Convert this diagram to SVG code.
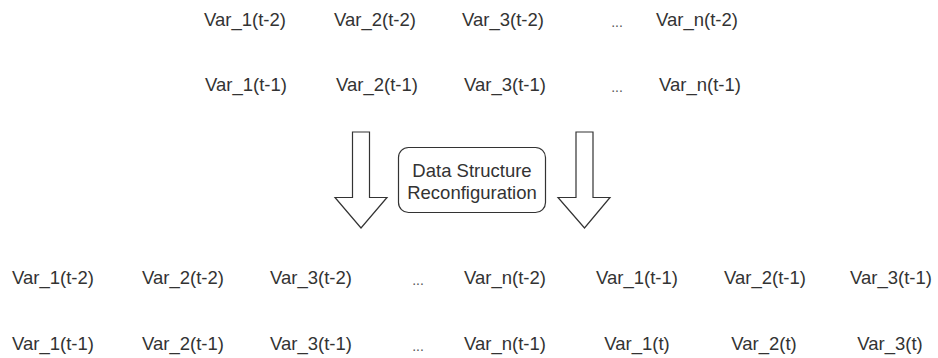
<svg xmlns="http://www.w3.org/2000/svg" width="938" height="358" viewBox="0 0 938 358">
<style>
text{font-family:"Liberation Sans",Arial,sans-serif;font-size:18.5px;fill:#333;text-anchor:middle;dominant-baseline:central}
text.dots{font-size:14px;fill:#555}
.arrow{fill:#fff;stroke:#333;stroke-width:1.2}
.box{fill:#fff;stroke:#333;stroke-width:1.2}
</style>
<rect width="938" height="358" fill="#fff"/>
<g id="top">
<g id="t1"><text x="245" y="19">Var_1(t-2)</text><text x="246" y="84">Var_1(t-1)</text></g>
<g id="t2"><text x="375" y="19">Var_2(t-2)</text><text x="377" y="84">Var_2(t-1)</text></g>
<g id="t3"><text x="503" y="19">Var_3(t-2)</text><text x="505" y="84">Var_3(t-1)</text></g>
<g id="tdots"><text class="dots" x="617" y="22">...</text><text class="dots" x="617" y="87">...</text></g>
<g id="tn"><text x="697" y="19">Var_n(t-2)</text><text x="700" y="84">Var_n(t-1)</text></g>
</g>
<g id="connectors">
<path class="arrow" d="M352.5,132 H369.5 V197.5 H387 L361,228 L335,197.5 H352.5 Z"/>
<path class="arrow" d="M576,132 H593 V197.5 H610 L584.5,228 L558,197.5 H576 Z"/>
</g>
<g id="reconfig">
<rect class="box" x="398.5" y="147.5" width="147" height="65" rx="10"/>
<text x="472" y="170" font-size="18">Data Structure</text>
<text x="472" y="192" font-size="18">Reconfiguration</text>
</g>
<g id="bottom">
<g id="b1"><text x="53" y="277">Var_1(t-2)</text><text x="53" y="343">Var_1(t-1)</text></g>
<g id="b2"><text x="183" y="277">Var_2(t-2)</text><text x="183" y="343">Var_2(t-1)</text></g>
<g id="b3"><text x="311" y="277">Var_3(t-2)</text><text x="311" y="343">Var_3(t-1)</text></g>
<g id="bdots"><text class="dots" x="418" y="280">...</text><text class="dots" x="418" y="346">...</text></g>
<g id="bn"><text x="505" y="277">Var_n(t-2)</text><text x="505" y="343">Var_n(t-1)</text></g>
<g id="b4"><text x="637" y="277">Var_1(t-1)</text><text x="637" y="343">Var_1(t)</text></g>
<g id="b5"><text x="765" y="277">Var_2(t-1)</text><text x="764" y="343">Var_2(t)</text></g>
<g id="b6"><text x="891" y="277">Var_3(t-1)</text><text x="890" y="343">Var_3(t)</text></g>
</g>
</svg>
